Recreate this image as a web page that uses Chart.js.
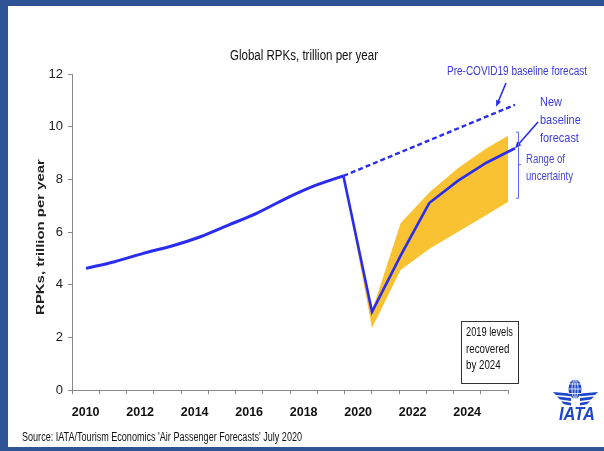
<!DOCTYPE html>
<html>
<head>
<meta charset="utf-8">
<title>Global RPKs</title>
<script src="https://cdn.jsdelivr.net/npm/chart.js@4.4.1/dist/chart.umd.min.js"></script>
<style>
  html, body { margin: 0; padding: 0; background: #fff; }
  #wrap { width: 604px; height: 451px; position: relative; }
</style>
</head>
<body>
<div id="wrap"><canvas id="rpk"></canvas></div>
<script>
// axis categories
const years = [2010, 2011, 2012, 2013, 2014, 2015, 2016, 2017, 2018, 2019, 2020, 2021, 2022, 2023, 2024, 2025];
const yTicks = [0, 2, 4, 6, 8, 10, 12];

// actuals, trillion RPKs
const histYears = [2010, 2011, 2012, 2013, 2014, 2015, 2016, 2017, 2018, 2019];
const histRpk = [4.62, 4.87, 5.19, 5.47, 5.82, 6.27, 6.73, 7.28, 7.76, 8.13];

// forecasts from 2019 on
const fcYears = [2019, 2020, 2021, 2022, 2023, 2024, 2025];
const preCovidRpk = [8.13, 8.58, 9.03, 9.48, 9.93, 10.38, 10.83];
const newBaseRpk = [8.13, 2.97, 5.10, 7.10, 7.94, 8.63, 9.18];
const rangeHigh = [8.13, 3.00, 6.33, 7.50, 8.42, 9.18, 9.81];
const rangeLow = [8.13, 2.35, 4.56, 5.35, 6.00, 6.65, 7.30];

const BLUE = '#2a2cf0';
const NOTE = '#3a3ae0';
const BAND = '#f8c232';
const FRAME = '#2f5496';
const SANS = '"Liberation Sans", Arial, sans-serif';

const pts = (xs, ys) => xs.map((x, i) => ({ x: x, y: ys[i] }));

// squeezed text; w fits the string to a width, otherwise sx is used
function narrowText(ctx, str, x, y, size, opts) {
  const o = Object.assign({ sx: 0.82, align: 'left', weight: '', style: '' }, opts || {});
  ctx.save();
  ctx.font = (o.style + ' ' + o.weight + ' ' + size + 'px ' + SANS).trim();
  ctx.textBaseline = 'middle';
  ctx.textAlign = o.align;
  let sx = o.sx;
  if (o.w) sx = o.w / ctx.measureText(str).width;
  ctx.translate(x, y);
  ctx.scale(sx, 1);
  ctx.fillText(str, 0, 0);
  ctx.restore();
}

function arrow(ctx, x1, y1, x2, y2, color) {
  const a = Math.atan2(y2 - y1, x2 - x1);
  ctx.strokeStyle = color;
  ctx.fillStyle = color;
  ctx.lineWidth = 1.6;
  ctx.beginPath();
  ctx.moveTo(x1, y1);
  ctx.lineTo(x2 - 4 * Math.cos(a), y2 - 4 * Math.sin(a));
  ctx.stroke();
  ctx.beginPath();
  ctx.moveTo(x2, y2);
  ctx.lineTo(x2 - 7 * Math.cos(a - 0.4), y2 - 7 * Math.sin(a - 0.4));
  ctx.lineTo(x2 - 7 * Math.cos(a + 0.4), y2 - 7 * Math.sin(a + 0.4));
  ctx.closePath();
  ctx.fill();
}

function drawLogo(ctx, cx, cy) {
  const c = '#1f45c8';
  ctx.save();
  ctx.fillStyle = c;
  // wings, three tapered stripes each side
  for (let i = 0; i < 3; i++) {
    const y = cy + 2 + i * 4.6;
    const inset = i * 4;
    ctx.beginPath();
    ctx.moveTo(cx - 22 + inset, y);
    ctx.lineTo(cx - 4, y + 1.5);
    ctx.lineTo(cx - 4, y + 4.3);
    ctx.lineTo(cx - 19 + inset, y + 3);
    ctx.closePath();
    ctx.fill();
    ctx.beginPath();
    ctx.moveTo(cx + 23 - inset, y);
    ctx.lineTo(cx + 5, y + 1.5);
    ctx.lineTo(cx + 5, y + 4.3);
    ctx.lineTo(cx + 20 - inset, y + 3);
    ctx.closePath();
    ctx.fill();
  }
  // globe
  ctx.beginPath();
  ctx.ellipse(cx, cy - 1, 6.5, 9.5, 0, 0, Math.PI * 2);
  ctx.fill();
  ctx.strokeStyle = '#fff';
  ctx.lineWidth = 0.8;
  ctx.beginPath();
  ctx.ellipse(cx, cy - 1, 3, 9.5, 0, 0, Math.PI * 2);
  ctx.moveTo(cx, cy - 10.5);
  ctx.lineTo(cx, cy + 8.5);
  for (const dy of [-5, 0, 4.5]) {
    ctx.moveTo(cx - 6.5, cy - 1 + dy);
    ctx.lineTo(cx + 6.5, cy - 1 + dy);
  }
  ctx.stroke();
  narrowText(ctx, 'IATA', cx + 2, cy + 25, 18, { align: 'center', weight: 'bold', style: 'italic', w: 36 });
  ctx.restore();
}

// frame, titles, call-outs and logo around the plot
const decor = {
  id: 'decor',
  beforeDraw(chart) {
    const ctx = chart.ctx;
    ctx.save();
    ctx.fillStyle = '#fff';
    ctx.fillRect(0, 0, chart.width, chart.height);
    ctx.restore();
  },
  afterDraw(chart) {
    const ctx = chart.ctx;
    const xs = chart.scales.xd;
    const ys = chart.scales.y;
    ctx.save();

    // frame strips
    ctx.fillStyle = FRAME;
    ctx.fillRect(0, 0, chart.width, 6);
    ctx.fillRect(0, 0, 8, chart.height);
    ctx.fillRect(0, chart.height - 4, chart.width, 4);

    // title
    ctx.fillStyle = '#111';
    narrowText(ctx, 'Global RPKs, trillion per year', 304, 56, 14, { align: 'center', w: 148 });

    // y axis title
    ctx.save();
    ctx.translate(41, 237);
    ctx.rotate(-Math.PI / 2);
    ctx.scale(1.42, 1);
    ctx.font = 'bold 10.5px ' + SANS;
    ctx.textAlign = 'center';
    ctx.textBaseline = 'middle';
    ctx.fillStyle = '#222';
    ctx.fillText('RPKs, trillion per year', 0, 0);
    ctx.restore();

    // source line
    ctx.fillStyle = '#111';
    narrowText(ctx, "Source: IATA/Tourism Economics 'Air Passenger Forecasts' July 2020", 22, 438, 12, { w: 280 });

    // pre-COVID call-out
    ctx.fillStyle = NOTE;
    narrowText(ctx, 'Pre-COVID19 baseline forecast', 447, 72, 12.5, { w: 140 });
    arrow(ctx, 506, 83, xs.getPixelForValue(2024.34), ys.getPixelForValue(10.76), BLUE);

    // new baseline call-out
    ctx.fillStyle = NOTE;
    narrowText(ctx, 'New', 540, 102, 13.5, { sx: 0.81 });
    narrowText(ctx, 'baseline', 540, 120, 13.5, { sx: 0.81 });
    narrowText(ctx, 'forecast', 540, 138, 13.5, { sx: 0.81 });
    const xEnd = xs.getPixelForValue(2025);
    arrow(ctx, 538, 122, xEnd, ys.getPixelForValue(newBaseRpk[6]), BLUE);

    // range bracket
    const yTop = ys.getPixelForValue(rangeHigh[6]);
    const yBot = ys.getPixelForValue(rangeLow[6]);
    const yMid = (yTop + yBot) / 2;
    const bx = xEnd + 3;
    ctx.strokeStyle = '#5a6af0';
    ctx.lineWidth = 1;
    ctx.beginPath();
    ctx.moveTo(bx - 2, yTop + 0.5);
    ctx.lineTo(bx + 0.5, yTop + 0.5);
    ctx.lineTo(bx + 0.5, yBot + 0.5);
    ctx.lineTo(bx - 2, yBot + 0.5);
    ctx.moveTo(bx + 0.5, yMid);
    ctx.lineTo(bx + 3, yMid);
    ctx.stroke();
    ctx.fillStyle = '#4646e0';
    narrowText(ctx, 'Range of', 526, 160, 12, { sx: 0.8 });
    narrowText(ctx, 'uncertainty', 526, 177, 12, { w: 47 });

    // recovery note box
    ctx.strokeStyle = '#333';
    ctx.lineWidth = 1;
    ctx.strokeRect(461.5, 321.5, 57, 62);
    ctx.fillStyle = '#111';
    narrowText(ctx, '2019 levels', 466, 333, 12.5, { w: 47 });
    narrowText(ctx, 'recovered', 466, 350, 12.5, { sx: 0.78 });
    narrowText(ctx, 'by 2024', 466, 366, 12.5, { sx: 0.78 });

    drawLogo(ctx, 575, 390);
    ctx.restore();
  }
};

// hidden year scale the lines are plotted on
const xdMin = 2009.51;
const xdMax = 2024.755;

new Chart(document.getElementById('rpk'), {
  type: 'line',
  data: {
    datasets: [
      {
        label: 'Actual',
        data: pts(histYears, histRpk),
        xAxisID: 'xd',
        borderColor: BLUE,
        borderWidth: 3,
        pointRadius: 0,
        tension: 0.3,
        clip: false
      },
      {
        label: 'New baseline forecast',
        data: pts(fcYears, newBaseRpk),
        xAxisID: 'xd',
        borderColor: BLUE,
        borderWidth: 2.6,
        pointRadius: 0,
        tension: 0,
        clip: false
      },
      {
        label: 'Pre-COVID19 baseline forecast',
        data: pts(fcYears, preCovidRpk),
        xAxisID: 'xd',
        borderColor: BLUE,
        borderWidth: 2.4,
        borderDash: [5, 3],
        pointRadius: 0,
        clip: false
      },
      {
        label: 'Range high',
        data: pts(fcYears, rangeHigh),
        xAxisID: 'xd',
        borderWidth: 0,
        pointRadius: 0,
        backgroundColor: BAND,
        fill: '+1',
        clip: false
      },
      {
        label: 'Range low',
        data: pts(fcYears, rangeLow),
        xAxisID: 'xd',
        borderWidth: 0,
        pointRadius: 0,
        fill: false,
        clip: false
      }
    ]
  },
  options: {
    responsive: true,
    maintainAspectRatio: false,
    animation: false,
    layout: { padding: { top: 74, right: 96, bottom: 0, left: 0 } },
    plugins: {
      legend: { display: false },
      tooltip: { enabled: false }
    },
    scales: {
      x: {
        type: 'category',
        labels: years.map(String),
        offset: true,
        afterFit: (s) => { s.height = 61; },
        grid: { offset: true, drawOnChartArea: false, tickLength: 4, color: '#888' },
        border: { color: '#888' },
        ticks: {
          autoSkip: false,
          maxRotation: 0,
          padding: 11,
          color: '#111',
          font: { family: SANS, size: 12.5, weight: 'bold' },
          callback: (v, i) => (years[i] % 2 === 0 ? String(years[i]) : '')
        }
      },
      xd: {
        type: 'linear',
        display: false,
        min: xdMin,
        max: xdMax
      },
      y: {
        min: 0,
        max: 12,
        afterFit: (s) => { s.width = 72; },
        afterBuildTicks: (s) => { s.ticks = yTicks.map(v => ({ value: v })); },
        grid: { drawOnChartArea: false, tickLength: 4, color: '#888' },
        border: { color: '#888' },
        ticks: {
          padding: 5,
          color: '#222',
          font: { family: SANS, size: 13 }
        }
      }
    }
  },
  plugins: [decor]
});
</script>
</body>
</html>
